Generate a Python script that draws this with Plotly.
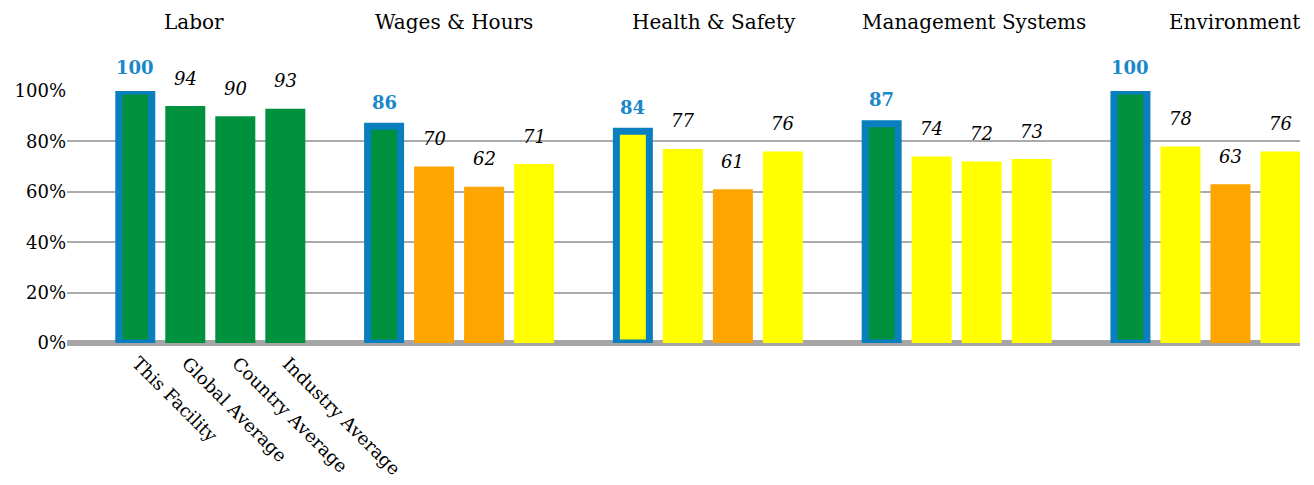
import plotly.graph_objects as go

categories = ["Labor", "Wages & Hours", "Health & Safety", "Management Systems", "Environment"]
series_names = ["This Facility", "Global Average", "Country Average", "Industry Average"]
this_facility = [100, 86, 84, 87, 100]
global_avg = [94, 70, 77, 74, 78]
country_avg = [90, 62, 61, 72, 63]
industry_avg = [93, 71, 76, 73, 76]
tick_vals = [0, 20, 40, 60, 80, 100]
tick_text = ["0%", "20%", "40%", "60%", "80%", "100%"]

series_values = [this_facility, global_avg, country_avg, industry_avg]

GREEN = "#00913F"
YELLOW = "#FFFF00"
ORANGE = "#FFA500"
BLUE = "#0A7FC0"
LABEL_BLUE = "#1A88C8"
FONT = "DejaVu Serif"


def score_color(v):
    if v >= 85:
        return GREEN
    if v > 70:
        return YELLOW
    return ORANGE


BARGAP = 0.196
BARGROUPGAP = 0.2
slot = (1 - BARGAP) / len(series_names)
bar_w = slot * (1 - BARGROUPGAP)
OUTLINE = 7
# narrower facility bar so the outline's outer edge matches the other bars
facility_w = bar_w * (40 - OUTLINE) / 40

fig = go.Figure()
for j, (name, vals) in enumerate(zip(series_names, series_values)):
    kw = {}
    if j == 0:
        kw["width"] = facility_w
    fig.add_trace(go.Bar(
        name=name,
        x=categories,
        y=vals,
        marker=dict(
            color=[score_color(v) for v in vals],
            line=dict(color=BLUE if j == 0 else "rgba(0,0,0,0)", width=OUTLINE if j == 0 else 0),
        ),
        cliponaxis=False,
        showlegend=False,
        hoverinfo="skip",
        **kw,
    ))

annotations = []
# value labels
for j, vals in enumerate(series_values):
    for i, v in enumerate(vals):
        annotations.append(dict(
            x=i + (j - 1.5) * slot, y=v, xref="x", yref="y",
            text=str(v), showarrow=False, yanchor="middle", xanchor="center",
            yshift=24 if j == 0 else 28,
            font=dict(family=FONT, size=18,
                      color=LABEL_BLUE if j == 0 else "#000000",
                      weight="bold" if j == 0 else "normal",
                      style="normal" if j == 0 else "italic"),
        ))

# category titles on top
for i, c in enumerate(categories):
    annotations.append(dict(
        x=0.103 + i * 0.2109, y=1, xref="paper", yref="paper",
        yshift=69, text=c, showarrow=False, xanchor="center", yanchor="middle",
        font=dict(family=FONT, size=20, color="#000000"),
    ))

# rotated series names under first group
for j, name in enumerate(series_names):
    annotations.append(dict(
        x=(j - 1.5) * slot, y=0, xref="x", yref="y",
        xanchor="left", yanchor="top", xshift=-10, yshift=-7,
        text=name, showarrow=False, textangle=45,
        font=dict(family=FONT, size=18, color="#000000"),
    ))

fig.update_layout(
    width=1306, height=477,
    margin=dict(l=59, r=14, t=83, b=142),
    paper_bgcolor="white", plot_bgcolor="white",
    barmode="group", bargap=BARGAP, bargroupgap=BARGROUPGAP,
    annotations=annotations,
    font=dict(family=FONT, size=18, color="#000000"),
    xaxis=dict(range=[-0.576, 4.38], showticklabels=False, showgrid=False,
               showline=False, zeroline=False, ticks=""),
    yaxis=dict(range=[0, 100], tickvals=tick_vals, ticktext=tick_text,
               showgrid=True, gridcolor="#ABABAB", gridwidth=2,
               zeroline=True, zerolinecolor="#A6A6A6", zerolinewidth=6,
               showline=False, ticks="", automargin=False,
               tickfont=dict(family=FONT, size=18, color="#000000")),
)

fig.write_html("out.html")
